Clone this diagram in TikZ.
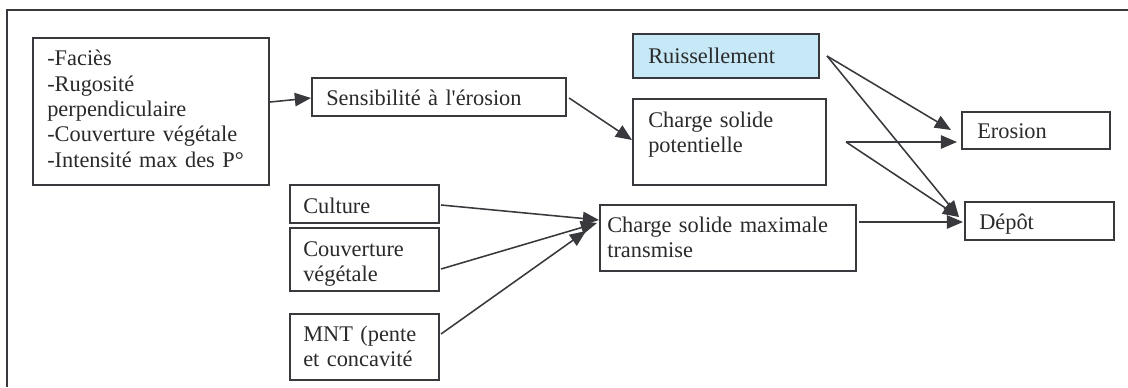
\documentclass[tikz,border=0pt]{standalone}
\usepackage{fontspec}
\setmainfont{Liberation Serif}
\definecolor{linegray}{HTML}{38383D}
\definecolor{textgray}{HTML}{2A2A2A}
\definecolor{rainblue}{HTML}{C6E8F7}
\usepackage{tikz}
\usetikzlibrary{calc, arrows.meta, positioning}
\tikzset{
	boxnode/.style={
			rectangle,
			draw=linegray,
			line width=1.4pt,
			fill=white,
			inner sep=0pt,
			anchor=north west
		},
	bluenode/.style={
			boxnode,
			fill=rainblue
		},
	textnode/.style={
			anchor=base west,
			inner sep=0pt,
			text width=8cm,
			align=left,
			text=textgray,
			font=\fontsize{15.9}{18}\selectfont
		},
	arrowline/.style={
			draw=linegray,
			line width=1.1pt,
			-{Triangle[length=11.5pt,width=9.5pt]}
		}
}

\begin{document}
\begin{tikzpicture}[x=0.025cm, y=-0.025cm]
\useasboundingbox (0,0) rectangle (1128,387);
\draw[linegray, line width=1.4pt] (7,387) -- (7,10) -- (1128,10);

% boxes
\node[boxnode, minimum width=5.9cm, minimum height=3.675cm] (fac) at (32,37) {};
\node[boxnode, minimum width=6.35cm, minimum height=0.95cm] (sens) at (311,77) {};
\node[bluenode, minimum width=4.65cm, minimum height=1.1cm] (ruis) at (632,33) {};
\node[boxnode, minimum width=4.825cm, minimum height=2.15cm] (pot) at (632,98) {};
\node[boxnode, minimum width=3.7cm, minimum height=0.925cm] (ero) at (961,111) {};
\node[boxnode, minimum width=3.725cm, minimum height=0.95cm] (dep) at (964,201) {};
\node[boxnode, minimum width=6.4cm, minimum height=1.65cm] (csmt) at (599,204) {};
\node[boxnode, minimum width=3.725cm, minimum height=0.95cm] (cult) at (289,184) {};
\node[boxnode, minimum width=3.725cm, minimum height=1.575cm] (couv) at (289,227) {};
\node[boxnode, minimum width=3.725cm, minimum height=1.65cm] (mnt) at (289,313) {};

% texts
\node[textnode] (fac-t) at (47,66) {-Faciès\\-Rugosité\\perpendiculaire\\-Couverture végétale\\-Intensité max des P°};
\node[textnode] (sens-t) at (326,105) {Sensibilité à l\textquotesingle érosion};
\node[textnode] (ruis-t) at (648,63) {Ruissellement};
\node[textnode] (pot-t) at (648,127) {Charge solide\\potentielle};
\node[textnode] (ero-t) at (977,138) {Erosion};
\node[textnode] (dep-t) at (979,229) {Dépôt};
\node[textnode] (csmt-t) at (607,232) {Charge solide maximale\\transmise};
\node[textnode] (cult-t) at (303,213) {Culture};
\node[textnode] (couv-t) at (303,256) {Couverture\\végétale};
\node[textnode] (mnt-t) at (303,341) {MNT (pente\\et concavité};

% connectors
\coordinate (ruis-out) at ($(ruis.north east)+(7,23)$);
\coordinate (pot-out) at ($(pot.north east)+(19,44)$);
\coordinate (dep-in) at ($(dep.north west)+(-5,16)$);

\draw[arrowline] ($(fac.north east)+(0,65)$) -- ($(sens.north west)+(0,21)$);
\draw[arrowline] ($(sens.north east)+(2,21)$) -- ($(pot.north west)+(0,42)$);
\draw[arrowline] (ruis-out) -- ($(ero.north west)+(-10,19)$);
\draw[arrowline] (ruis-out) -- (dep-in);
\draw[arrowline] (pot-out) -- ($(ero.north west)+(-4,31)$);
\draw[arrowline] (pot-out) -- (dep-in);
\draw[arrowline] ($(csmt.north east)+(2,18)$) -- ($(dep.north west)+(-1,21)$);
\draw[arrowline] ($(cult.north east)+(1,21)$) -- ($(csmt.north west)+(0,16)$);
\draw[arrowline] ($(couv.north east)+(1,42)$) -- ($(csmt.north west)+(-2,19)$);
\draw[arrowline] ($(mnt.north east)+(1,21)$) -- ($(csmt.north west)+(-13,27)$);
\end{tikzpicture}
\end{document}
